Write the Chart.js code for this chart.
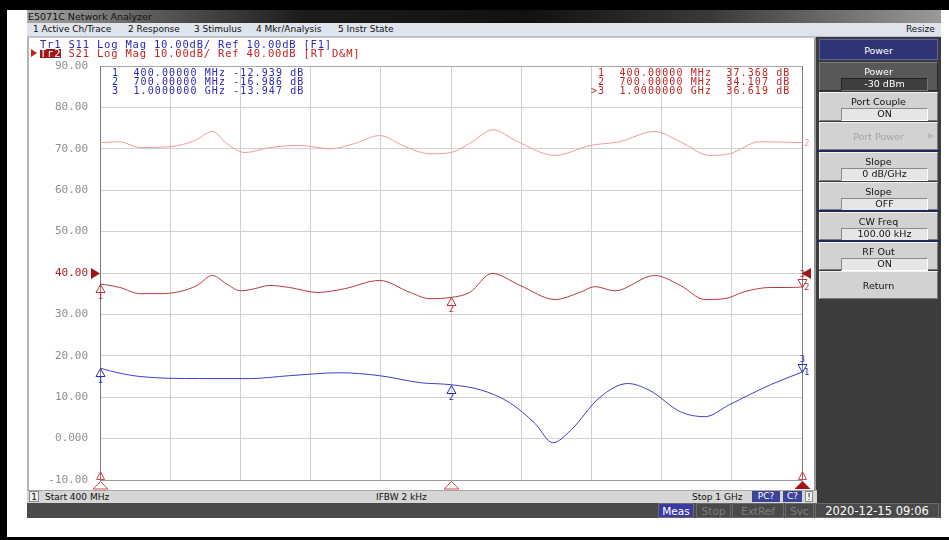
<!DOCTYPE html>
<html>
<head>
<meta charset="utf-8">
<script src="https://cdn.jsdelivr.net/npm/chart.js@4/dist/chart.umd.min.js"></script>
<style>
  html, body { margin: 0; padding: 0; }
  body { width: 949px; height: 540px; position: relative; overflow: hidden; background: #fff; font-family: "DejaVu Sans", sans-serif; }
  .abs { position: absolute; box-sizing: border-box; }
  .mono { font-family: "DejaVu Sans Mono", monospace; white-space: pre; }
  #titlebar { left: 27px; top: 10px; width: 914px; height: 13px;
    background: linear-gradient(90deg, #a8a8a8 0%, #5a5a5a 14%, #1c1c1c 30%, #111 55%, #3a3a3a 75%, #9a9a9a 100%);
    font-size: 9.5px; line-height: 13px; color: #111; padding-left: 1px; }
  #menubar { left: 27px; top: 23px; width: 914px; height: 14px; background: #dfe3ec; border-bottom: 1px solid #b8bcc6;
    font-size: 9px; line-height: 13px; color: #111; }
  #menubar span { position: absolute; top: 0; }
  #panel { left: 27px; top: 37px; width: 790px; height: 453px; background: #fff; border-left: 2px solid #b4b4b4; border-right: 3px solid #9a9a9a; border-top: 1px solid #c8c8c8; }
  #hdr1, #hdr2 { font-size: 10.5px; letter-spacing: 0.8px; line-height: 9px; height: 9px; }
  #hdr1 { left: 40px; top: 40px; color: #2a2ab8; }
  #hdr2 { left: 40px; top: 49px; color: #c42222; }
  #hdr2 .tr { display: inline-block; height: 9px; line-height: 9px; background: #a01818; color: #fff; vertical-align: top; }
  #ptr { left: 31px; top: 49px; width: 0; height: 0; border-top: 4px solid transparent; border-bottom: 4px solid transparent; border-left: 6px solid #c42222; }
  .readout { font-size: 10px; letter-spacing: 1.1px; line-height: 9px; }
  #ro1 { left: 105px; top: 68px; color: #2a2ab8; }
  #ro2 { left: 591px; top: 68px; color: #c42222; }
  #chartwrap { left: 30px; top: 37px; width: 785px; height: 453px; }
  #side { left: 816px; top: 37px; width: 125px; height: 466px; background: #3c3c3c; }
  .sk { position: absolute; left: 819px; width: 119px; box-sizing: border-box; text-align: center; font-size: 9.5px; }
  .btn { background: #d2d2d2; color: #111; border-top: 1px solid #f2f2f2; border-left: 1px solid #f2f2f2; border-right: 1px solid #7a7a7a; border-bottom: 1px solid #7a7a7a; }
  .btn .cap { position: absolute; left: 0; right: 0; top: 3px; line-height: 11px; }
  .btn .fld { position: absolute; left: 21px; right: 9px; top: 15px; height: 11px; line-height: 10px; background: #e6e6e6; border-top: 1px solid #8a8a8a; border-left: 1px solid #8a8a8a; border-right: 1px solid #fff; border-bottom: 1px solid #fff; }
  .sep { position: absolute; left: 817px; width: 123px; height: 2px; background: #1e2a5e; }
  #status { left: 27px; top: 490px; width: 790px; height: 13px; background: #d6d6d6; border-top: 1px solid #a8a8a8; font-size: 9px; line-height: 12px; color: #111; }
  #status span { position: absolute; top: 0; }
  .box { position: absolute; top: 1px; height: 11px; line-height: 10px; text-align: center; box-sizing: border-box; }
  #bottombar { left: 27px; top: 503px; width: 914px; height: 15px; background: #4a4a4a; font-size: 10.5px; line-height: 14px; }
  #bottombar span { position: absolute; top: 0; height: 15px; box-sizing: border-box; text-align: center; border: 1px solid #6a6a6a; }
</style>
</head>
<body>
<div class="abs" style="left:0;top:0;width:949px;height:10px;background:#000"></div>
<div class="abs" style="left:0;top:0;width:7px;height:540px;background:#000"></div>
<div class="abs" style="left:0;top:537px;width:949px;height:3px;background:#000"></div>

<div id="titlebar" class="abs">E5071C Network Analyzer</div>
<div id="menubar" class="abs">
  <span style="left:6px">1 Active Ch/Trace</span>
  <span style="left:101px">2 Response</span>
  <span style="left:167px">3 Stimulus</span>
  <span style="left:229px">4 Mkr/Analysis</span>
  <span style="left:311px">5 Instr State</span>
  <span style="left:879px">Resize</span>
</div>

<div id="panel" class="abs"></div>
<div id="chartwrap" class="abs"><canvas id="vna" width="785" height="453"></canvas></div>

<div id="hdr1" class="abs mono">Tr1 S11 Log Mag 10.00dB/ Ref 10.00dB [F1]</div>
<div id="ptr" class="abs"></div>
<div id="hdr2" class="abs mono"><span class="tr">Tr2</span> S21 Log Mag 10.00dB/ Ref 40.00dB [RT D&amp;M]</div>
<div id="ro1" class="abs mono readout"></div>
<div id="ro2" class="abs mono readout"></div>

<div id="side" class="abs"></div>
<div class="sk" style="top:39px;height:21px;line-height:21px;background:#2e3474;color:#fff;border:1px solid #5a62a8;">Power</div>
<div class="sk btn" style="top:62px;height:29px;background:#585858;color:#fff;border-color:#7a7a7a #2a2a2a #2a2a2a #7a7a7a;">
  <div class="cap">Power</div><div class="fld" style="background:#3e3e3e;color:#fff;border-color:#222 #777 #777 #222;">-30 dBm</div></div>
<div class="sk btn" style="top:92px;height:29px;"><div class="cap">Port Couple</div><div class="fld">ON</div></div>
<div class="sk btn" style="top:122px;height:28px;color:#a4a4a4;"><div class="cap" style="top:8px">Port Power</div><div style="position:absolute;right:3px;top:8px;color:#b8b8b8;font-size:8px">&#9654;</div></div>
<div class="sep" style="top:150px"></div>
<div class="sk btn" style="top:152px;height:29px;"><div class="cap">Slope</div><div class="fld">0 dB/GHz</div></div>
<div class="sk btn" style="top:182px;height:28px;"><div class="cap">Slope</div><div class="fld">OFF</div></div>
<div class="sep" style="top:210px"></div>
<div class="sk btn" style="top:212px;height:28px;"><div class="cap">CW Freq</div><div class="fld">100.00 kHz</div></div>
<div class="sep" style="top:240px"></div>
<div class="sk btn" style="top:242px;height:28px;"><div class="cap">RF Out</div><div class="fld">ON</div></div>
<div class="sk btn" style="top:271px;height:28px;"><div class="cap" style="top:8px">Return</div></div>

<div id="status" class="abs">
  <span class="box" style="left:2px;width:10px;background:#eee;border:1px solid #888;">1</span>
  <span style="left:18px">Start 400 MHz</span>
  <span style="left:349px">IFBW 2 kHz</span>
  <span style="left:665px">Stop 1 GHz</span>
  <span class="box" style="left:725px;width:28px;background:#3c449a;color:#fff;">PC?</span>
  <span class="box" style="left:756px;width:19px;background:#3c449a;color:#fff;">C?</span>
  <span class="box" style="left:778px;width:8px;background:#f2f2f2;border:1px solid #888;">!</span>
</div>
<div id="bottombar" class="abs">
  <span style="left:631px;width:36px;background:#3a3aa2;color:#fff;">Meas</span>
  <span style="left:669px;width:35px;color:#7e7e7e;">Stop</span>
  <span style="left:705px;width:52px;color:#7e7e7e;">ExtRef</span>
  <span style="left:758px;width:29px;color:#7e7e7e;">Svc</span>
  <span style="left:788px;width:124px;color:#fff;font-size:11.5px;">2020-12-15 09:06</span>
</div>

<script>
// Sweep: 400 MHz .. 1 GHz, 10 divisions
const gridFreq = [400, 460, 520, 580, 640, 700, 760, 820, 880, 940, 1000];
const gridDb = [-10, 0, 10, 20, 30, 40, 50, 60, 70, 80, 90];

// Tr2 S21 data trace (dB)
const s21Freq = [400, 404, 417, 434, 451, 468, 483, 496, 508, 520, 532, 545, 562, 586, 609, 639, 665, 682, 700, 716, 735, 759, 789, 810, 823, 840, 874, 896, 917, 934, 951, 973, 990, 1000];
const s21Db   = [37.368, 37.2, 36.5, 35.0, 35.0, 35.5, 37.0, 39.4, 37.4, 35.7, 36.2, 37.0, 36.5, 35.3, 36.2, 38.2, 35.3, 33.8, 34.107, 35.3, 39.9, 37.0, 33.6, 35.3, 36.7, 35.7, 39.4, 37.0, 33.6, 33.8, 35.5, 36.5, 36.5, 36.619];

// Tr2 S21 memory trace (dB)
const memFreq = [400, 417, 434, 460, 481, 496, 508, 524, 545, 571, 597, 618, 639, 661, 682, 700, 716, 736, 755, 789, 819, 844, 874, 896, 921, 938, 964, 1000];
const memDb   = [71.5, 71.7, 70.3, 70.5, 72.0, 74.2, 71.3, 69.1, 70.3, 70.8, 70.0, 71.3, 73.2, 70.5, 68.8, 69.1, 71.3, 74.6, 72.0, 68.4, 70.8, 71.7, 74.2, 71.7, 68.4, 68.8, 71.7, 71.5];

// Tr1 S11 data trace (dB)
const s11Freq = [400, 408, 434, 485, 528, 562, 605, 639, 674, 700, 725, 750, 772, 787, 802, 827, 851, 870, 896, 917, 938, 973, 1000];
const s11Db   = [-12.939, -13.6, -15.0, -15.5, -15.5, -14.8, -14.1, -14.8, -16.5, -16.986, -18.2, -21.3, -26.4, -31.0, -28.1, -20.1, -16.7, -18.4, -23.5, -24.7, -21.8, -17.0, -13.947];

// Markers 1..3 (marker 3 active)
const markerFreq = [400, 700, 1000];
const s11MarkerDb = [-12.939, -16.986, -13.947];
const s21MarkerDb = [37.368, 34.107, 36.619];
const activeMarker = 2;

// Reference levels (both traces share the same reference position)
const s11Ref = 10;
const s21Ref = 40;

const toPts = (xs, ys) => xs.map((x, i) => ({ x, y: ys[i] }));

function fmtFreq(mhz) {
  return mhz >= 1000 ? (mhz / 1000).toFixed(7) + ' GHz' : mhz.toFixed(5) + ' MHz';
}
function readout(values, showActive) {
  return markerFreq.map((f, i) => {
    const pre = (showActive && i === activeMarker) ? '>' : ' ';
    return pre + (i + 1) + '  ' + fmtFreq(f) + ' ' + values[i].toFixed(3).padStart(7) + ' dB';
  }).join('\n');
}
document.getElementById('ro1').textContent = readout(s11MarkerDb, false);
document.getElementById('ro2').textContent = readout(s21MarkerDb, true);

const C_S21 = '#b8393a';
const C_MEM = '#f29a9a';
const C_S11 = '#3c3cd2';
const C_MKR_RED = '#c43030';
const C_MKR_BLUE = '#2c2cc0';

function tri(ctx, cx, apexY, dir, hw, h, color, filled) {
  ctx.beginPath();
  ctx.moveTo(cx, apexY);
  ctx.lineTo(cx - hw, apexY + dir * h);
  ctx.lineTo(cx + hw, apexY + dir * h);
  ctx.closePath();
  if (filled) { ctx.fillStyle = color; ctx.fill(); }
  else { ctx.strokeStyle = color; ctx.lineWidth = 1; ctx.stroke(); }
}
function triSide(ctx, apexX, cy, dir, hh, w, color) {
  ctx.beginPath();
  ctx.moveTo(apexX, cy);
  ctx.lineTo(apexX + dir * w, cy - hh);
  ctx.lineTo(apexX + dir * w, cy + hh);
  ctx.closePath();
  ctx.fillStyle = color; ctx.fill();
}

const vnaMarkers = {
  id: 'vnaMarkers',
  afterDatasetsDraw(chart) {
    const ctx = chart.ctx;
    const xs = chart.scales.x, y2 = chart.scales.y, y1 = chart.scales.yS11;
    ctx.save();
    ctx.font = '9px "DejaVu Sans Mono", monospace';
    ctx.textAlign = 'center';

    const drawSet = (vals, scale, color) => {
      markerFreq.forEach((f, i) => {
        const px = Math.round(xs.getPixelForValue(f)) + 0.5;
        const py = Math.round(scale.getPixelForValue(vals[i])) + 0.5;
        ctx.fillStyle = color;
        if (i === activeMarker) {
          tri(ctx, px, py, -1, 4.5, 8, color, false);
          ctx.textBaseline = 'bottom';
          ctx.fillText(String(i + 1), px, py - 8);
        } else {
          tri(ctx, px, py, 1, 4.5, 8, color, false);
          ctx.textBaseline = 'top';
          ctx.fillText(String(i + 1), px, py + 8);
        }
      });
    };
    drawSet(s21MarkerDb, y2, C_MKR_RED);
    drawSet(s11MarkerDb, y1, C_MKR_BLUE);

    // trace number at the end of each trace
    ctx.textAlign = 'left';
    ctx.textBaseline = 'middle';
    const endLabel = (vals, scale, color, txt) => {
      ctx.fillStyle = color;
      ctx.fillText(txt, xs.right + 2, scale.getPixelForValue(vals[vals.length - 1]) + 1);
    };
    endLabel(memDb, y2, C_MEM, '2');
    endLabel(s21Db, y2, C_MKR_RED, '2');
    endLabel(s11Db, y1, C_MKR_BLUE, '1');

    // reference level pointers
    const yr = Math.round(y2.getPixelForValue(s21Ref)) + 0.5;
    triSide(ctx, xs.left, yr, -1, 5.5, 9, '#a51414');
    triSide(ctx, xs.right, yr, 1, 5.5, 9, '#a51414');

    // stimulus marker pointers under the grid
    const yb = y2.bottom;
    markerFreq.forEach((f, i) => {
      const px = Math.round(xs.getPixelForValue(f)) + 0.5;
      if (i === activeMarker) tri(ctx, px, yb + 1, 1, 8, 8, '#a51414', true);
      else tri(ctx, px, yb + 1.5, 1, 7.5, 7.5, '#d24a4a', false);
    });
    [markerFreq[0], markerFreq[markerFreq.length - 1]].forEach(f => {
      const px = Math.round(xs.getPixelForValue(f)) + 0.5;
      tri(ctx, px, yb - 8.5, 1, 4, 8, '#d24a4a', false);
      ctx.beginPath(); ctx.moveTo(px, yb - 8); ctx.lineTo(px, yb); ctx.strokeStyle = '#d24a4a'; ctx.stroke();
    });
    ctx.restore();
  }
};

new Chart(document.getElementById('vna'), {
  type: 'line',
  data: {
    datasets: [
      { label: 'Tr2 S21 Mem', data: toPts(memFreq, memDb), borderColor: C_MEM, yAxisID: 'y' },
      { label: 'Tr2 S21', data: toPts(s21Freq, s21Db), borderColor: C_S21, yAxisID: 'y' },
      { label: 'Tr1 S11', data: toPts(s11Freq, s11Db), borderColor: C_S11, yAxisID: 'yS11' }
    ]
  },
  options: {
    responsive: false,
    animation: false,
    devicePixelRatio: 1,
    layout: { padding: { left: 0, top: 29, right: 13, bottom: 10 } },
    elements: {
      line: { borderWidth: 1, tension: 0, cubicInterpolationMode: 'monotone', fill: false },
      point: { radius: 0, hoverRadius: 0 }
    },
    plugins: { legend: { display: false }, tooltip: { enabled: false } },
    scales: {
      x: {
        type: 'linear', min: gridFreq[0], max: gridFreq[gridFreq.length - 1],
        afterBuildTicks: s => { s.ticks = gridFreq.map(v => ({ value: v })); },
        afterFit: s => { s.height = 0; s.paddingLeft = 0; s.paddingRight = 0; },
        ticks: { display: false },
        grid: {
          drawTicks: false,
          color: c => (c.index === 0 || c.index === gridFreq.length - 1) ? '#7c7c7c' : '#cfcfcf'
        },
        border: { display: true, color: '#9a9a9a' }
      },
      y: {
        min: gridDb[0], max: gridDb[gridDb.length - 1],
        afterBuildTicks: s => { s.ticks = gridDb.map(v => ({ value: v })); },
        afterFit: s => { s.width = 70; s.paddingTop = 0; s.paddingBottom = 0; },
        ticks: {
          padding: 12,
          font: { family: '"DejaVu Sans Mono", monospace', size: 11 },
          color: c => c.tick.value === s21Ref ? '#b01c1c' : '#8e8e8e',
          callback: v => v === 0 ? '0.000' : v.toFixed(2)
        },
        grid: {
          drawTicks: false,
          color: c => (c.index === gridDb.length - 1) ? '#a8a8a8' : '#d2d2d2'
        },
        border: { display: true, color: '#7c7c7c' }
      },
      yS11: {
        display: false,
        min: gridDb[0] - (s21Ref - s11Ref), max: gridDb[gridDb.length - 1] - (s21Ref - s11Ref)
      }
    }
  },
  plugins: [vnaMarkers]
});
</script>
</body>
</html>
